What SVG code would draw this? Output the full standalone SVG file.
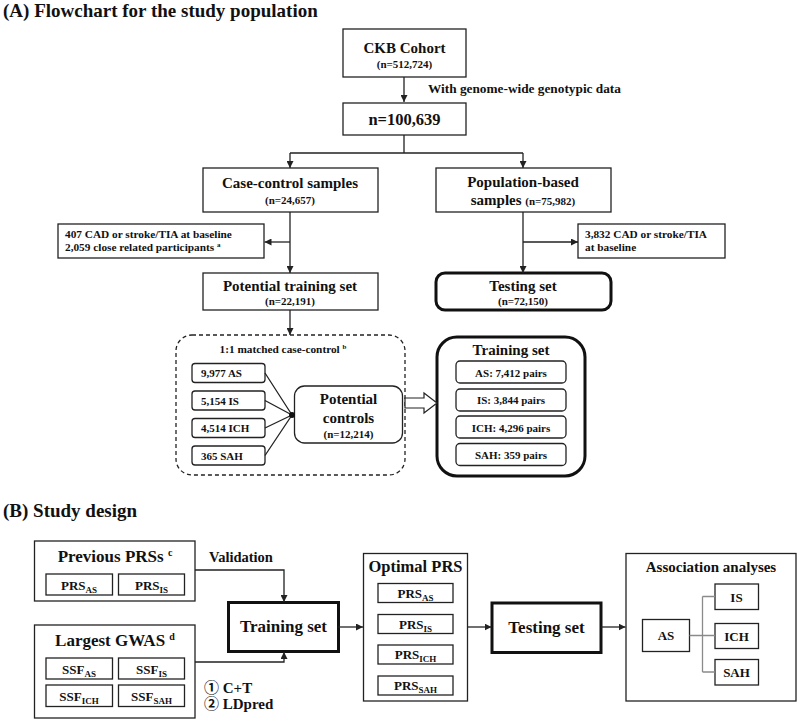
<svg xmlns="http://www.w3.org/2000/svg" width="800" height="723" viewBox="0 0 800 723">
<defs>
<marker id="ah" markerWidth="7" markerHeight="7" refX="7" refY="3.5" orient="auto" markerUnits="userSpaceOnUse">
<path d="M0,0 L7,3.5 L0,7 z" fill="#222"/>
</marker>
<style>
text{font-family:"Liberation Serif","Times New Roman","Noto Sans CJK SC",serif;font-weight:bold;fill:#111}
.box{fill:#fff;stroke:#222;stroke-width:1.3}
.thick{fill:#fff;stroke:#111;stroke-width:3}
.ln{fill:none;stroke:#222;stroke-width:1.3}
.grey{fill:none;stroke:#8a8a8a;stroke-width:1.3}
.m{text-anchor:middle}
.t15{font-size:15px}
.t11{font-size:11px}
.t17{font-size:17px}
.t13{font-size:13px}
</style>
</defs>
<rect width="800" height="723" fill="#fff"/>

<text x="3" y="17" style="font-size:19px">(A) Flowchart for the study population</text>
<text x="3" y="517" style="font-size:19px">(B) Study design</text>

<text x="428" y="93" style="font-size:13.3px">With genome-wide genotypic data</text>
<text x="209" y="562" style="font-size:14.5px">Validation</text>
<text x="204" y="693" class="t15">① C+T</text>
<text x="204" y="708.5" class="t15">② LDpred</text>

<g id="ckb">
<rect class="box" x="343" y="29" width="123" height="48"/>
<text class="m t15" x="404.5" y="53">CKB Cohort</text>
<text class="m t11" x="404.5" y="68">(n=512,724)</text>
</g>
<g id="genotyped">
<rect class="box" x="343" y="103" width="123" height="32"/>
<text class="m" x="404.5" y="125" style="font-size:16.5px">n=100,639</text>
</g>
<g id="casecontrol">
<rect class="box" x="203" y="168" width="175" height="44"/>
<text class="m t15" x="290" y="188">Case-control samples</text>
<text class="m t11" x="290" y="204">(n=24,657)</text>
</g>
<g id="population">
<rect class="box" x="436" y="168" width="175" height="44"/>
<text class="m t15" x="523" y="187">Population-based</text>
<text class="m t15" x="523" y="205">samples <tspan class="t11">(n=75,982)</tspan></text>
</g>
<g id="excl-left">
<rect class="box" x="58" y="224" width="206" height="34"/>
<text x="65" y="237.5" style="font-size:11.3px">407 CAD or stroke/TIA at baseline</text>
<text x="65" y="251" style="font-size:11.3px">2,059 close related participants <tspan style="font-size:7px" dy="-4">a</tspan></text>
</g>
<g id="excl-right">
<rect class="box" x="578" y="224" width="147" height="34"/>
<text x="585" y="237.5" style="font-size:11.3px">3,832 CAD or stroke/TIA</text>
<text x="585" y="251" style="font-size:11.3px">at baseline</text>
</g>
<g id="potential-training">
<rect class="box" x="203" y="273" width="175" height="37"/>
<text class="m t15" x="290" y="291">Potential training set</text>
<text class="m t11" x="290" y="305">(n=22,191)</text>
</g>
<g id="testing-a">
<rect class="thick" x="436" y="273" width="175" height="37" rx="9"/>
<text class="m t15" x="523" y="291">Testing set</text>
<text class="m t11" x="523" y="305">(n=72,150)</text>
</g>
<g id="matched">
<rect x="176" y="335" width="229" height="140" rx="16" fill="none" stroke="#222" stroke-width="1.3" stroke-dasharray="4,3"/>
<text class="m" x="283" y="353" style="font-size:11.3px">1:1 matched case-control <tspan style="font-size:7px" dy="-4">b</tspan></text>
</g>
<g id="cases">
<rect class="box" x="192" y="363.5" width="73" height="19" rx="3"/>
<rect class="box" x="192" y="391" width="73" height="19" rx="3"/>
<rect class="box" x="192" y="418.5" width="73" height="19" rx="3"/>
<rect class="box" x="192" y="446" width="73" height="19" rx="3"/>
<text class="t11" x="201" y="377">9,977 AS</text>
<text class="t11" x="201" y="404.5">5,154 IS</text>
<text class="t11" x="201" y="432">4,514 ICH</text>
<text class="t11" x="201" y="459.5">365 SAH</text>
</g>
<g id="potential-controls">
<rect class="box" x="294.5" y="386" width="108" height="57" rx="10"/>
<text class="m t15" x="348.5" y="404">Potential</text>
<text class="m t15" x="348.5" y="423">controls</text>
<text class="m t11" x="348.5" y="437.5">(n=12,214)</text>
</g>
<g id="training-a">
<rect class="thick" x="437" y="337" width="148" height="139" rx="20"/>
<text class="m t15" x="511" y="355">Training set</text>
<rect class="box" x="456" y="361" width="110" height="22" rx="4"/>
<rect class="box" x="456" y="389" width="110" height="22" rx="4"/>
<rect class="box" x="456" y="416" width="110" height="22" rx="4"/>
<rect class="box" x="456" y="443.5" width="110" height="22" rx="4"/>
<text class="m t11" x="511" y="376.5">AS: 7,412 pairs</text>
<text class="m t11" x="511" y="404">IS: 3,844 pairs</text>
<text class="m t11" x="511" y="431.5">ICH: 4,296 pairs</text>
<text class="m t11" x="511" y="458.5">SAH: 359 pairs</text>
</g>

<g id="previous-prs">
<rect class="box" x="34.5" y="541" width="160.5" height="60"/>
<text class="m t17" x="115" y="562">Previous PRSs <tspan style="font-size:10px" dy="-6">c</tspan></text>
<rect class="box" x="46" y="574" width="66.5" height="21"/>
<rect class="box" x="118.5" y="574" width="66" height="21"/>
<text class="m t13" x="79" y="589.5">PRS<tspan style="font-size:9px" dy="3">AS</tspan></text>
<text class="m t13" x="151.5" y="589.5">PRS<tspan style="font-size:9px" dy="3">IS</tspan></text>
</g>
<g id="gwas">
<rect class="box" x="34.5" y="625" width="160.5" height="93"/>
<text class="m t17" x="115" y="646">Largest GWAS <tspan style="font-size:10px" dy="-6">d</tspan></text>
<rect class="box" x="46" y="658" width="66.5" height="21"/>
<rect class="box" x="118.5" y="658" width="66" height="21"/>
<rect class="box" x="46" y="685" width="66.5" height="21.5"/>
<rect class="box" x="118.5" y="685" width="66" height="21.5"/>
<text class="m t13" x="79" y="673.5">SSF<tspan style="font-size:9px" dy="3">AS</tspan></text>
<text class="m t13" x="151.5" y="673.5">SSF<tspan style="font-size:9px" dy="3">IS</tspan></text>
<text class="m t13" x="79" y="700.5">SSF<tspan style="font-size:9px" dy="3">ICH</tspan></text>
<text class="m t13" x="151.5" y="700.5">SSF<tspan style="font-size:9px" dy="3">SAH</tspan></text>
</g>
<g id="training-b">
<rect class="thick" x="228.5" y="602.5" width="110" height="49"/>
<text class="m t17" x="283.5" y="632">Training set</text>
</g>
<g id="optimal">
<rect class="box" x="363.5" y="553.5" width="104" height="147.5"/>
<text class="m" x="415.5" y="572" style="font-size:16.5px">Optimal PRS</text>
<rect class="box" x="378" y="583.5" width="75" height="19"/>
<rect class="box" x="378" y="614.5" width="75" height="19"/>
<rect class="box" x="378" y="645" width="75" height="19"/>
<rect class="box" x="378" y="676" width="75" height="19"/>
<text class="m t13" x="415.5" y="597.5">PRS<tspan style="font-size:9px" dy="3">AS</tspan></text>
<text class="m t13" x="415.5" y="628.5">PRS<tspan style="font-size:9px" dy="3">IS</tspan></text>
<text class="m t13" x="415.5" y="659">PRS<tspan style="font-size:9px" dy="3">ICH</tspan></text>
<text class="m t13" x="415.5" y="690">PRS<tspan style="font-size:9px" dy="3">SAH</tspan></text>
</g>
<g id="testing-b">
<rect class="thick" x="492" y="603" width="109" height="49.5"/>
<text class="m t17" x="546.5" y="632.5">Testing set</text>
</g>
<g id="association">
<rect class="box" x="626" y="553.5" width="170" height="147.5"/>
<text class="m t15" x="711" y="572">Association analyses</text>
<rect class="box" x="642.5" y="619.5" width="47" height="32"/>
<text class="m t13" x="666" y="640">AS</text>
<rect class="box" x="715" y="584" width="43.5" height="25.5"/>
<rect class="box" x="715" y="623.5" width="43.5" height="25"/>
<rect class="box" x="715" y="659.5" width="43.5" height="25.5"/>
<text class="m t13" x="736.5" y="601.5">IS</text>
<text class="m t13" x="736.5" y="641">ICH</text>
<text class="m t13" x="736.5" y="677">SAH</text>
</g>

<g id="connectors">
<path class="ln" d="M404,77 V102" marker-end="url(#ah)"/>
<path class="ln" d="M404,135 V153 M290,153 H523"/>
<path class="ln" d="M290,153 V168" marker-end="url(#ah)"/>
<path class="ln" d="M523,153 V168" marker-end="url(#ah)"/>
<path class="ln" d="M290,212 V273" marker-end="url(#ah)"/>
<path class="ln" d="M290,242 H264.5" marker-end="url(#ah)"/>
<path class="ln" d="M523,212 V273" marker-end="url(#ah)"/>
<path class="ln" d="M523,242 H578" marker-end="url(#ah)"/>
<path class="ln" d="M290,310 V335" marker-end="url(#ah)"/>
<path class="ln" d="M265,373 L292,415 M265,400.5 L292,415 M265,428 L292,415 M265,455.5 L292,415"/>
<circle cx="292" cy="415" r="3" fill="#111"/>
<polygon points="405,398 424,398 424,393 437,403 424,413 424,408 405,408" fill="#fff" stroke="#222" stroke-width="1.2"/>
<path class="ln" d="M195,570 H284 V602" marker-end="url(#ah)"/>
<path class="ln" d="M195,662 H284 V652" marker-end="url(#ah)"/>
<path class="ln" d="M338,627 H363" marker-end="url(#ah)"/>
<path class="ln" d="M468,627 H491.5" marker-end="url(#ah)"/>
<path class="ln" d="M601,627 H625.5" marker-end="url(#ah)"/>
<path class="grey" d="M689.5,635.5 H702.5 M702.5,596.5 V672 M702.5,596.5 H715 M702.5,635.5 H715 M702.5,672 H715"/>
</g>
</svg>
